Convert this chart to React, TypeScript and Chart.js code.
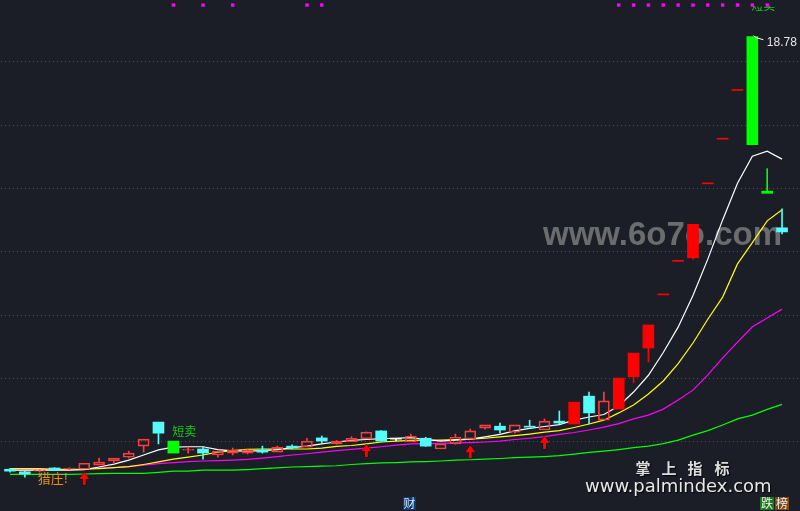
import React, { useEffect, useRef } from "react";
import { Chart, registerables } from "chart.js";

Chart.register(...registerables);

// ---- data ----
const opens = [5.11, 5.03, 5.05, 5.15, 5.11, 5.11, 5.24, 5.37, 5.49, 5.84, 6.6, 6.0, 5.71, 5.75, 5.56, 5.62, 5.62, 5.72, 5.65, 5.84, 5.81, 6.1, 5.91, 5.98, 6.07, 6.32, 6.06, 5.97, 6.09, 5.75, 5.91, 6.06, 6.41, 6.47, 6.28, 6.47, 6.35, 6.63, 6.54, 7.42, 6.66, 7.01, 8.03, 8.94, 10.62, 11.68, 11.79, 14.13, 15.54, 17.08, 18.78, 13.9, 12.74];
const highs = [5.14, 5.04, 5.09, 5.16, 5.16, 5.3, 5.46, 5.46, 5.68, 6.06, 6.6, 6.0, 5.81, 5.81, 5.68, 5.78, 5.75, 5.84, 5.84, 5.88, 6.09, 6.16, 6.02, 6.14, 6.29, 6.33, 6.09, 6.22, 6.12, 5.91, 6.22, 6.38, 6.51, 6.57, 6.51, 6.66, 6.7, 6.95, 7.23, 7.55, 7.55, 7.99, 8.78, 9.67, 10.62, 11.68, 12.85, 14.13, 15.54, 17.08, 18.78, 14.61, 13.34];
const lows = [5.02, 4.86, 5.03, 5.07, 5.1, 5.11, 5.24, 5.3, 5.46, 5.65, 5.91, 5.62, 5.62, 5.43, 5.49, 5.56, 5.59, 5.62, 5.65, 5.75, 5.81, 5.95, 5.9, 5.98, 6.07, 5.99, 6.01, 5.97, 5.83, 5.75, 5.9, 6.06, 6.38, 6.25, 6.25, 6.44, 6.35, 6.55, 6.54, 6.54, 6.66, 7.01, 7.84, 8.5, 10.62, 11.68, 11.75, 14.13, 15.54, 17.08, 15.37, 13.83, 12.55];
const closes = [5.05, 4.96, 5.08, 5.08, 5.15, 5.3, 5.34, 5.46, 5.62, 6.06, 6.25, 5.62, 5.72, 5.62, 5.68, 5.72, 5.72, 5.65, 5.81, 5.78, 6.0, 6.0, 6.0, 6.09, 6.28, 6.0, 6.06, 6.16, 5.84, 5.91, 6.13, 6.32, 6.51, 6.35, 6.51, 6.44, 6.63, 6.57, 7.23, 6.89, 7.27, 7.99, 8.78, 9.67, 10.62, 11.68, 12.85, 14.13, 15.54, 17.08, 15.37, 13.83, 12.61];

const ma5 = [5.08, 5.08, 5.08, 5.08, 5.08, 5.1, 5.18, 5.27, 5.4, 5.56, 5.72, 5.81, 5.82, 5.82, 5.73, 5.69, 5.68, 5.7, 5.73, 5.79, 5.84, 5.91, 5.97, 6.02, 6.05, 6.08, 6.09, 6.11, 6.05, 6.0, 6.03, 6.06, 6.13, 6.21, 6.32, 6.4, 6.46, 6.52, 6.66, 6.76, 6.84, 7.11, 7.55, 8.08, 8.8, 9.6, 10.6, 11.75, 12.99, 14.15, 15.0, 15.16, 14.91];
const ma10 = [5.13, 5.13, 5.13, 5.11, 5.11, 5.11, 5.13, 5.16, 5.19, 5.26, 5.34, 5.43, 5.49, 5.56, 5.65, 5.7, 5.74, 5.75, 5.75, 5.75, 5.75, 5.78, 5.83, 5.86, 5.91, 5.97, 6.0, 6.02, 6.03, 6.03, 6.05, 6.06, 6.09, 6.13, 6.17, 6.22, 6.28, 6.33, 6.43, 6.54, 6.66, 6.89, 7.14, 7.49, 7.9, 8.45, 9.1, 9.85, 10.55, 11.6, 12.27, 12.96, 13.31];
const ma20 = [5.08, 5.08, 5.1, 5.1, 5.1, 5.11, 5.15, 5.16, 5.19, 5.24, 5.29, 5.32, 5.35, 5.37, 5.38, 5.4, 5.42, 5.46, 5.51, 5.56, 5.6, 5.65, 5.7, 5.74, 5.78, 5.82, 5.87, 5.91, 5.92, 5.93, 5.94, 5.95, 5.97, 6.0, 6.05, 6.09, 6.14, 6.21, 6.27, 6.35, 6.44, 6.55, 6.7, 6.82, 7.01, 7.3, 7.61, 8.09, 8.63, 9.13, 9.61, 9.89, 10.17];
const ma60 = [4.95, 4.95, 4.95, 4.95, 4.95, 4.96, 4.97, 4.98, 4.98, 4.98, 5.01, 5.05, 5.05, 5.08, 5.08, 5.08, 5.1, 5.13, 5.15, 5.18, 5.19, 5.21, 5.22, 5.26, 5.29, 5.31, 5.32, 5.34, 5.35, 5.37, 5.4, 5.41, 5.43, 5.45, 5.48, 5.49, 5.51, 5.54, 5.59, 5.64, 5.68, 5.73, 5.79, 5.84, 5.92, 6.03, 6.19, 6.33, 6.51, 6.7, 6.82, 7.0, 7.16];

const gridPrices = [6, 8, 10, 12, 14, 16, 18];
const topSignalIdx = [11, 13, 15, 20, 21, 41, 42, 43, 44, 45, 46, 47, 48, 49, 50, 51];
const topSignalPrice = 19.78;
const buyArrowIdx = [5, 24, 31, 36];
const buyArrowTip = [5.02, 5.9, 5.87, 6.16];
const shortSellIdx = [11, 50];
const shortSellPrice = [6.32, 19.78];
const shortSellText = "短卖";
const huntIdx = [2];
const huntPrice = [4.83];
const huntText = "猎庄!";

const X_MIN = -0.6736;
const X_MAX = 53.21;
const Y_MIN = 3.79;
const Y_MAX = 19.94;

const BG = "#1b1e26";
const UP = "#ff3c3c";
const LIMIT_UP = "#ff0000";
const DOWN = "#54fcfc";
const LIMIT_DOWN = "#00ff00";
const DOJI = "#ffffff";

const idx = opens.map((_, i) => i);

function kindOf(i: number): string {
  const o = opens[i];
  const c = closes[i];
  const p = i > 0 ? closes[i - 1] : o;
  if (c >= p * 1.095) return "limitUp";
  if (c <= p * 0.905) return "limitDown";
  if (Math.abs(c - o) < 0.005) return "doji";
  return c > o ? "up" : "down";
}
const kinds = idx.map(kindOf);
const colorOf = (k: string) =>
  k === "up" ? UP : k === "limitUp" ? LIMIT_UP : k === "down" ? DOWN : k === "limitDown" ? LIMIT_DOWN : DOJI;

const bodyData = idx.map((i) => ({ x: i, y: [opens[i], closes[i]] }));
const upperWick = idx.map((i) => {
  const top = Math.max(opens[i], closes[i]);
  return highs[i] - top > 0.001 ? { x: i, y: [top, highs[i]] } : { x: i, y: null };
});
const lowerWick = idx.map((i) => {
  const bot = Math.min(opens[i], closes[i]);
  return bot - lows[i] > 0.001 ? { x: i, y: [lows[i], bot] } : { x: i, y: null };
});
const lineData = (arr: number[]) => idx.map((i) => ({ x: i, y: arr[i] }));

function drawArrow(ctx: CanvasRenderingContext2D, x: number, y: number) {
  ctx.beginPath();
  ctx.moveTo(x, y);
  ctx.lineTo(x + 5, y + 7);
  ctx.lineTo(x + 1.5, y + 7);
  ctx.lineTo(x + 1.5, y + 13);
  ctx.lineTo(x - 1.5, y + 13);
  ctx.lineTo(x - 1.5, y + 7);
  ctx.lineTo(x - 5, y + 7);
  ctx.closePath();
  ctx.fillStyle = "#ff0000";
  ctx.strokeStyle = "rgba(0,0,0,0.7)";
  ctx.lineWidth = 1;
  ctx.stroke();
  ctx.fill();
}

const decorPlugin = {
  id: "decor",
  beforeDraw(chart: any) {
    const { ctx, width, height } = chart;
    ctx.save();
    ctx.fillStyle = BG;
    ctx.fillRect(0, 0, width, height);
    ctx.restore();
  },
  beforeDatasetsDraw(chart: any) {
    const { ctx, width, height } = chart;
    const xs = chart.scales.x;
    const ys = chart.scales.y;
    ctx.save();
    ctx.fillStyle = "#4c505a";
    for (const g of gridPrices) {
      const py = Math.round(ys.getPixelForValue(g));
      for (let x = 1; x < width; x += 4) ctx.fillRect(x, py, 1, 1);
    }
    ctx.font = "bold 33px 'Liberation Sans', Arial, sans-serif";
    ctx.fillStyle = "rgba(128,128,128,0.8)";
    ctx.textBaseline = "alphabetic";
    ctx.textAlign = "left";
    ctx.fillText("www.6o7o.com", 543, 245);

    // short-sell labels (top one partly cut by the top signal row)
    ctx.textBaseline = "middle";
    ctx.font = "12px 'Noto Sans CJK SC', sans-serif";
    ctx.fillStyle = "#18c818";
    const clipTop = ys.getPixelForValue(topSignalPrice) + 1;
    shortSellIdx.forEach((i, k) => {
      ctx.save();
      ctx.beginPath();
      ctx.rect(0, clipTop, width, height);
      ctx.clip();
      ctx.fillText(shortSellText, xs.getPixelForValue(i) - 1, ys.getPixelForValue(shortSellPrice[k]));
      ctx.restore();
    });
    ctx.restore();
  },
  afterDatasetsDraw(chart: any) {
    const { ctx } = chart;
    const xs = chart.scales.x;
    const ys = chart.scales.y;
    ctx.save();
    // buy arrows
    buyArrowIdx.forEach((i, k) => {
      drawArrow(ctx, xs.getPixelForValue(i), ys.getPixelForValue(buyArrowTip[k]));
    });
    ctx.textBaseline = "middle";
    ctx.textAlign = "left";
    ctx.font = "13px 'Noto Sans CJK SC', sans-serif";
    ctx.fillStyle = "#e8901c";
    huntIdx.forEach((i, k) => {
      ctx.fillText(huntText, xs.getPixelForValue(i) - 2, ys.getPixelForValue(huntPrice[k]));
    });
    // highest price label
    const hiVal = Math.max(...highs);
    const hiIdx = highs.indexOf(hiVal);
    const hx = xs.getPixelForValue(hiIdx);
    const hy = ys.getPixelForValue(hiVal);
    ctx.strokeStyle = "#ffffff";
    ctx.lineWidth = 1;
    ctx.beginPath();
    ctx.moveTo(hx + 1, hy - 1);
    ctx.lineTo(hx + 4, hy + 1);
    ctx.lineTo(hx + 11, hy + 3);
    ctx.stroke();
    ctx.font = "12px 'Liberation Sans', Arial, sans-serif";
    ctx.fillStyle = "#e8e8e8";
    ctx.fillText(hiVal.toFixed(2), hx + 14.5, hy + 6);

    // branding
    ctx.shadowColor = "rgba(0,0,0,0.9)";
    ctx.shadowOffsetX = 1;
    ctx.shadowOffsetY = 1;
    ctx.shadowBlur = 1;
    ctx.textAlign = "center";
    ctx.font = "bold 15px 'Noto Sans CJK SC', sans-serif";
    ctx.fillStyle = "#dedede";
    const brand = ["掌", "上", "指", "标"];
    const brandX = [643, 669, 695, 722];
    brand.forEach((ch, k) => ctx.fillText(ch, brandX[k], 468.5));
    ctx.textAlign = "left";
    ctx.textBaseline = "alphabetic";
    ctx.font = "18px 'DejaVu Sans', sans-serif";
    ctx.fillStyle = "#e8e8e8";
    ctx.fillText("www.palmindex.com", 585, 492);
    ctx.shadowColor = "transparent";

    // bottom tags
    ctx.textAlign = "center";
    ctx.textBaseline = "middle";
    ctx.font = "12px 'Noto Sans CJK SC', sans-serif";
    ctx.fillStyle = "#0e3a6c";
    ctx.fillRect(403, 497, 13, 13);
    ctx.fillStyle = "#d6e4ff";
    ctx.fillText("财", 409.5, 503.5);
    ctx.fillStyle = "#1a7a1a";
    ctx.fillRect(760, 497, 14, 13);
    ctx.fillStyle = "#7c4a12";
    ctx.fillRect(775, 497, 14, 13);
    ctx.fillStyle = "#f0f0f0";
    ctx.fillText("跌", 767, 503.5);
    ctx.fillText("榜", 782, 503.5);
    ctx.restore();
  },
};

export default function App() {
  const ref = useRef<HTMLCanvasElement>(null);
  useEffect(() => {
    document.body.style.margin = "0";
    document.body.style.background = BG;
    const barCommon = { type: "bar" as const, grouped: false, borderSkipped: false as const };
    const chart = new Chart(ref.current as HTMLCanvasElement, {
      type: "line",
      data: {
        datasets: [
          {
            ...barCommon,
            label: "body",
            data: bodyData as any,
            barThickness: 11,
            minBarLength: 1,
            backgroundColor: kinds.map((k) => (k === "up" ? "rgba(0,0,0,0)" : colorOf(k))),
            borderColor: kinds.map(colorOf),
            borderWidth: kinds.map((k) => (k === "up" ? 1 : 0)),
            order: 1,
          } as any,
          {
            ...barCommon,
            label: "upperWick",
            data: upperWick as any,
            barThickness: 1,
            backgroundColor: kinds.map(colorOf),
            borderWidth: 0,
            order: 2,
          } as any,
          {
            ...barCommon,
            label: "lowerWick",
            data: lowerWick as any,
            barThickness: 1,
            backgroundColor: kinds.map(colorOf),
            borderWidth: 0,
            order: 2,
          } as any,
          { label: "MA5", data: lineData(ma5), borderColor: "#ffffff", borderWidth: 1.2, pointRadius: 0, order: 5 },
          { label: "MA10", data: lineData(ma10), borderColor: "#ffff00", borderWidth: 1.2, pointRadius: 0, order: 6 },
          { label: "MA20", data: lineData(ma20), borderColor: "#ff00ff", borderWidth: 1.2, pointRadius: 0, order: 7 },
          { label: "MA60", data: lineData(ma60), borderColor: "#00ff00", borderWidth: 1.2, pointRadius: 0, order: 8 },
          {
            label: "signal",
            data: topSignalIdx.map((i) => ({ x: i, y: topSignalPrice })),
            showLine: false,
            pointStyle: "rect",
            pointRadius: 2.4,
            backgroundColor: "#ff00ff",
            borderWidth: 0,
            order: 0,
          } as any,
        ],
      },
      options: {
        responsive: false,
        animation: false,
        events: [],
        layout: { padding: 0, autoPadding: false },
        plugins: { legend: { display: false }, tooltip: { enabled: false } },
        scales: {
          x: { type: "linear", min: X_MIN, max: X_MAX, display: false, offset: false },
          y: { type: "linear", min: Y_MIN, max: Y_MAX, display: false },
        },
      },
      plugins: [decorPlugin],
    });
    return () => chart.destroy();
  }, []);
  return (
    <div style={{ position: "fixed", left: 0, top: 0, width: 800, height: 511 }}>
      <canvas ref={ref} width={800} height={511} style={{ display: "block", width: 800, height: 511 }} />
    </div>
  );
}
